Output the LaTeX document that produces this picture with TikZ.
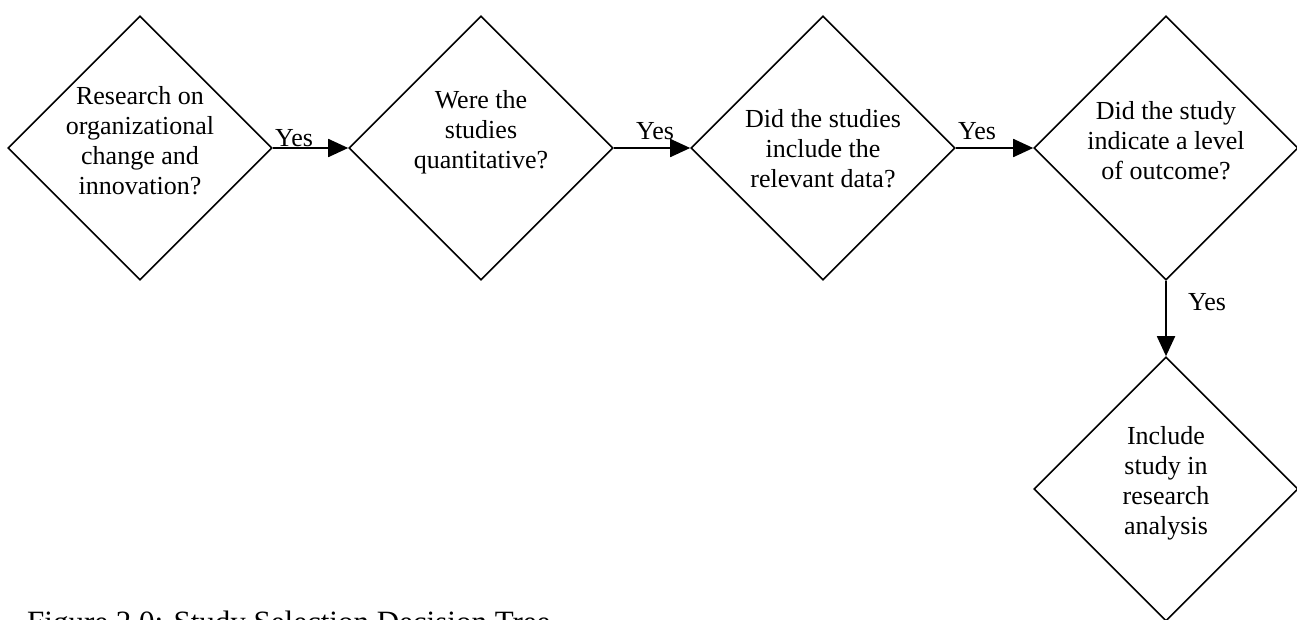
\documentclass[tikz,border=0pt]{standalone}
\usepackage{fontspec}
\setmainfont{Liberation Serif}
\usetikzlibrary{shapes.geometric,arrows.meta}
\tikzset{
  dia/.style={draw, shape=diamond, aspect=1, minimum width=264pt, minimum height=264pt, inner sep=0pt, line width=1.6pt},
  txt/.style={align=center, font=\fontsize{26}{30}\selectfont, inner sep=0pt},
  yes/.style={font=\fontsize{26}{30}\selectfont, inner sep=0pt},
  conn/.style={line width=1.8pt, -{Triangle[length=20pt,width=18pt]}}
}
\begin{document}
\begin{tikzpicture}[x=1pt,y=-1pt]
\useasboundingbox (0,0) rectangle (1297,619);
\node[dia] (d1) at (140,148) {};
\node[dia] (d2) at (481,148) {};
\node[dia] (d3) at (823,148) {};
\node[dia] (d4) at (1166,148) {};
\node[dia] (d5) at (1166,489) {};
\node[txt] (t1) at (140,141) {Research on\\organizational\\change and\\innovation?};
\node[txt] (t2) at (481,132) {Were the\\studies\\quantitative?};
\node[txt] (t3) at (823,149) {Did the studies\\include the\\relevant data?};
\node[txt] (t4) at (1166,141) {Did the study\\indicate a level\\of outcome?};
\node[txt] (t5) at (1166,483) {Include\\study in\\research\\analysis};
\draw[conn] (d1.east) -- (d2.west);
\draw[conn] (d2.east) -- (d3.west);
\draw[conn] (d3.east) -- (d4.west);
\draw[conn] (d4.south) -- (d5.north);
\node[yes] (y1) at (294,138) {Yes};
\node[yes] (y2) at (655,131) {Yes};
\node[yes] (y3) at (977,131) {Yes};
\node[yes] (y4) at (1207,302) {Yes};
\node[anchor=base west, inner sep=0pt, font=\fontsize{31}{36}\selectfont] (cap) at (27,632) {Figure 2.0: Study Selection Decision Tree};
\end{tikzpicture}
\end{document}
